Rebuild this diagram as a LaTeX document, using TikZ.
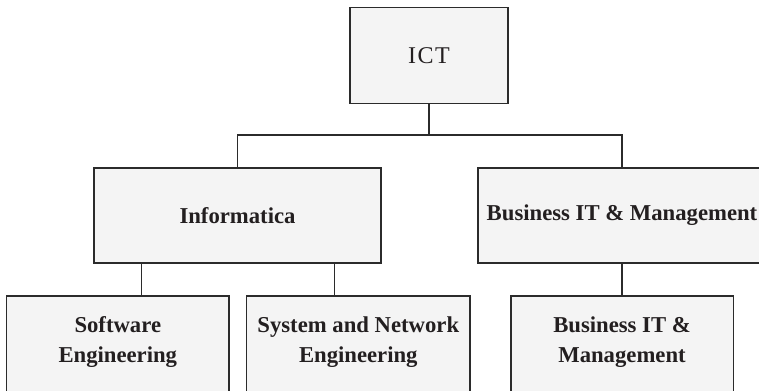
\documentclass[tikz,border=0pt]{standalone}
\usepackage{fontspec}
\setmainfont{Liberation Serif}
\definecolor{boxfill}{HTML}{F4F4F4}
\definecolor{boxline}{HTML}{2B2B2B}
\definecolor{boxtext}{HTML}{231F20}
\tikzset{
    unit/.style={draw=boxline, line width=1.3bp, fill=boxfill, text=boxtext, inner sep=0pt, align=center,
        font=\fontsize{22.7bp}{29.5bp}\selectfont\bfseries},
    leaf/.style={unit, minimum width=222.3bp, minimum height=100bp, text depth=13bp},
    link/.style={-, draw=boxline, line width=1.3bp}
}
\begin{document}
\begin{tikzpicture}[x=1bp, y=-1bp]
            \useasboundingbox (0,0) rectangle (759,390);

            \node[unit, minimum width=158bp, minimum height=96bp, font=\fontsize{24bp}{29.5bp}\selectfont] (ict) at (429,55.3) {I\kern1.5bp C\kern1.5bp T};

            \node[unit, minimum width=287bp, minimum height=95bp] (inf) at (237.5,215.5) {Informatica};
            \node[unit, minimum width=288bp, minimum height=95bp] (bus) at (622,215.5) {Business IT \& Management};

            \node[leaf] (soft) at (117.8,346) {Software\\Engineering};
            \node[leaf, minimum width=223.3bp] (sys) at (358.3,346) {System and Network\\Engineering};
            \node[leaf] (busb) at (622,346) {Business IT \&\\Management};

            \coordinate (split) at (429,135);
            \draw[link] (ict.south) -- (split);
            \draw[link] (inf.north) |- (split) -| (bus.north);

            \draw[link] ([xshift=24bp]soft.north) -- ([xshift=24bp]soft.north |- inf.south);
            \draw[link] ([xshift=-24bp]sys.north) -- ([xshift=-24bp]sys.north |- inf.south);
            \draw[link] (bus.south) -- (busb.north);
\end{tikzpicture}
\end{document}
